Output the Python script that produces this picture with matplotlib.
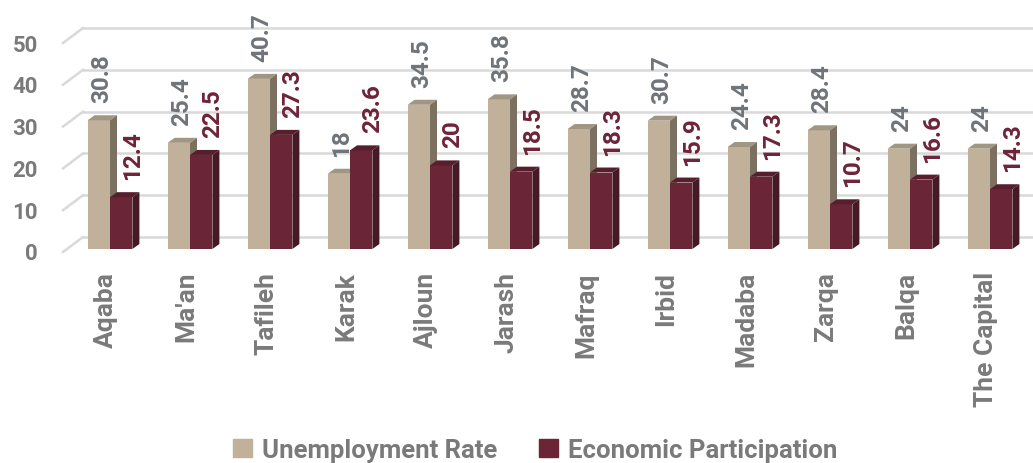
"""Unemployment rate vs economic participation by governorate (3D-style bars)."""

import matplotlib

matplotlib.use("Agg")
import matplotlib.pyplot as plt  # noqa: E402
from matplotlib.patches import Patch, Polygon  # noqa: E402

plt.rcParams["font.family"] = ["Roboto", "DejaVu Sans"]

governorates = ["Aqaba", "Ma'an", "Tafileh", "Karak", "Ajloun", "Jarash",
                "Mafraq", "Irbid", "Madaba", "Zarqa", "Balqa", "The Capital"]
unemployment = [30.8, 25.4, 40.7, 18, 34.5, 35.8, 28.7, 30.7, 24.4, 28.4, 24, 24]
participation = [12.4, 22.5, 27.3, 23.6, 20, 18.5, 18.3, 15.9, 17.3, 10.7, 16.6, 14.3]
yticks = [0, 10, 20, 30, 40, 50]

TAN = ("#C1B19A", "#A19583", "#7C7161")       # front, top, side
MAROON = ("#6A2537", "#571E2D", "#451A24")
TAN_TXT = "#6E7479"
MAROON_TXT = "#6E2438"
GREY_TXT = "#7A7A7A"
GRID = "#D9D9D9"

# pixel layout of the original (category pitch, value scale)
W, H = 1033, 464
X0, PITCH = 110.0, 80.0
BASE, PXV = 250.0, 4.18


def px_x(px):
    return (px - X0) / PITCH


def px_v(px):
    return px / PXV


fig = plt.figure(figsize=(W / 100, H / 100), dpi=100)
ax = fig.add_axes([0, 0, 1, 1])
ax.set_xlim(px_x(0), px_x(W))
ax.set_ylim((BASE - H) / PXV, BASE / PXV)
ax.axis("off")

# back wall gridlines + left floor diagonals
for v in yticks:
    ax.plot([px_x(83), px_x(W)], [v + px_v(12), v + px_v(12)], color=GRID, lw=1.8, zorder=1)
    ax.plot([px_x(63), px_x(83)], [v - px_v(3), v + px_v(12)], color=GRID, lw=1.8, zorder=1)
    ax.text(px_x(38), v - px_v(4.5), str(v), ha="right", va="center",
            fontsize=16, fontweight="bold", color=GREY_TXT)

bw = 0.28
ddx, ddv = px_x(X0 + 7), px_v(5)


def bar3d(x0, v, cols, z):
    ax.bar(x0, v, width=bw, align="edge", color=cols[0], lw=0, zorder=z)
    ax.add_patch(Polygon([(x0, v), (x0 + bw, v), (x0 + bw + ddx, v + ddv), (x0 + ddx, v + ddv)],
                         closed=True, fc=cols[1], lw=0, zorder=z))
    ax.add_patch(Polygon([(x0 + bw, 0), (x0 + bw, v), (x0 + bw + ddx, v + ddv), (x0 + bw + ddx, ddv)],
                         closed=True, fc=cols[2], lw=0, zorder=z))


for i, (u, p) in enumerate(zip(unemployment, participation)):
    bar3d(i - bw, u, TAN, 2 + 2 * i)
    bar3d(i, p, MAROON, 3 + 2 * i)
    ax.text(i - bw / 2 + px_x(X0 + 3), u + px_v(18), f"{u:g}", rotation=90, ha="center",
            va="bottom", fontsize=17.5, fontweight="bold", color=TAN_TXT, zorder=40)
    ax.text(i + bw / 2 + px_x(X0 + 11), p + px_v(18), f"{p:g}", rotation=90, ha="center",
            va="bottom", fontsize=17.5, fontweight="bold", color=MAROON_TXT, zorder=40)
    ax.text(i - 0.05, -px_v(22), governorates[i], rotation=90, ha="center", va="top",
            fontsize=19, fontweight="bold", color=GREY_TXT)

handles = [Patch(color=TAN[0], label="Unemployment Rate"),
           Patch(color=MAROON[0], label="Economic Participation")]
fig.legend(handles=handles, loc="center", bbox_to_anchor=(0.518, 13 / H), ncol=2,
           frameon=False, handlelength=0.75, handleheight=0.75, handletextpad=0.4,
           columnspacing=1.6, prop={"size": 18.5, "weight": "bold"}, labelcolor=GREY_TXT,
           borderpad=0)

fig.savefig("out.png", dpi=100)
